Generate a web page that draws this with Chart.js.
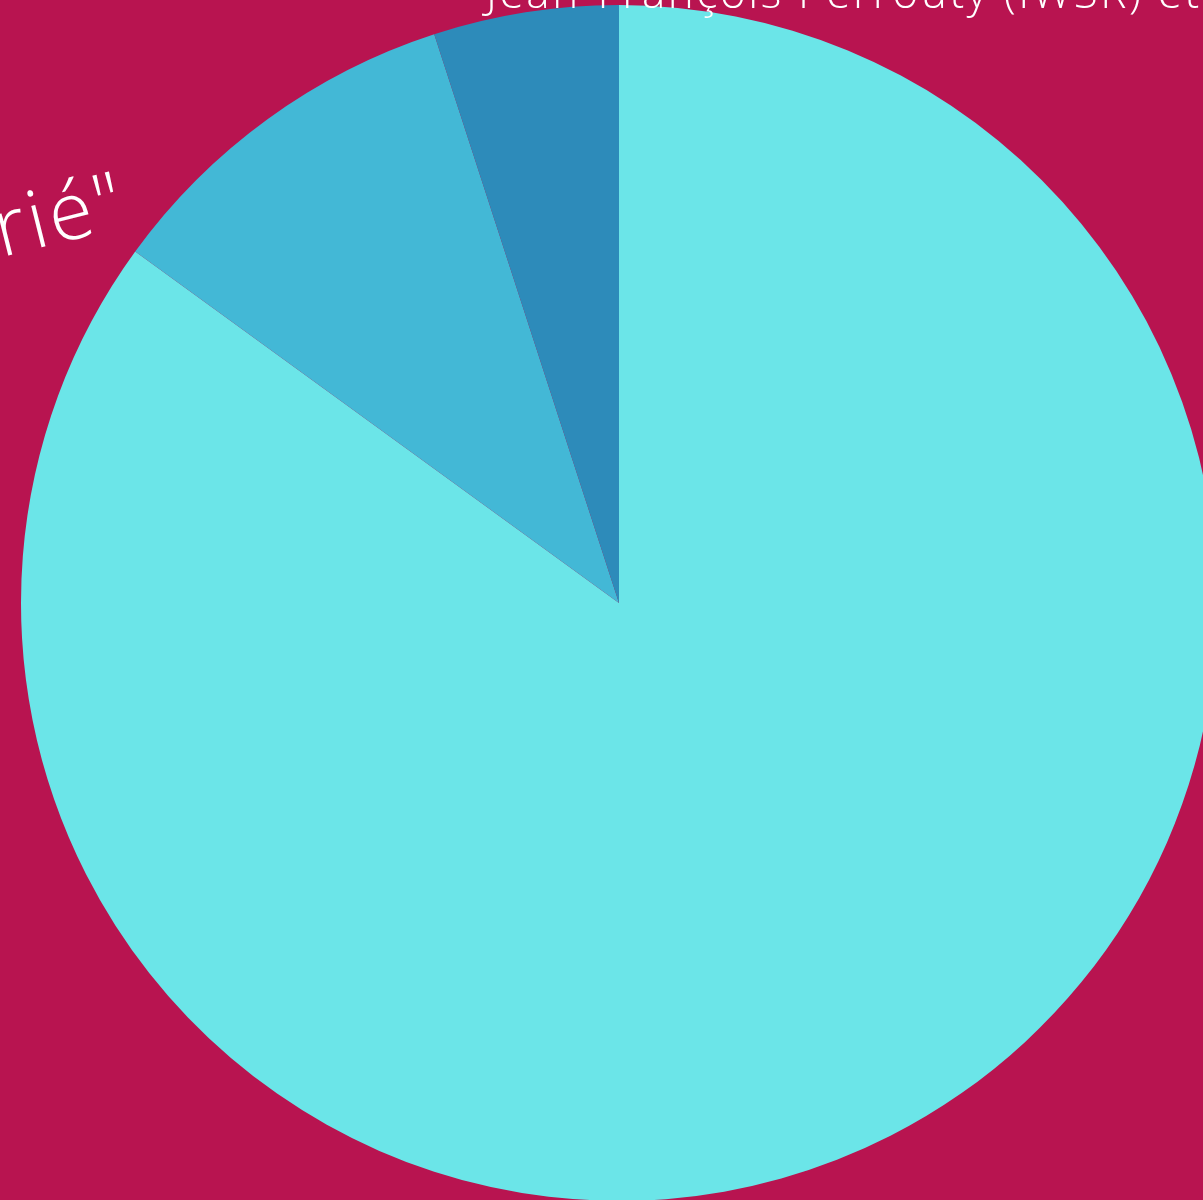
<!DOCTYPE html>
<html>
<head>
<meta charset="utf-8">
<script src="https://cdn.jsdelivr.net/npm/chart.js@4"></script>
<style>
    html, body { margin: 0; padding: 0; overflow: hidden; background: #b81450; }
    #wrap { position: absolute; left: 0; top: 0; width: 1240px; height: 1210px; }
</style>
</head>
<body>
<div id="wrap"><canvas id="pieChart"></canvas></div>
<script>
/* =========================
    Data
========================= */
const sliceLabels = ['Part 1', 'Part 2', 'Part 3'];
const sliceValues = [85, 10, 5];
const sliceColors = ['#6be5e8', '#43b8d6', '#2d8bba'];

const topText = 'Jean-François Perrouty (IWSR) et';
const sideText = 'rié"';

/* =========================
    Texte par-dessus le graphique
========================= */
const textPlugin = {
    id: 'overlayText',
    afterDraw(chart) {
        const ctx = chart.ctx;
        ctx.save();
        ctx.fillStyle = '#ffffff';
        ctx.textBaseline = 'alphabetic';

        // ligne du haut (coupée par le bord)
        ctx.font = '300 44px "Open Sans"';
        ctx.letterSpacing = '2.6px';
        ctx.textAlign = 'left';
        ctx.fillText(topText, 486, 8);

        // texte incliné à gauche
        ctx.translate(131, 225);
        ctx.rotate(-14 * Math.PI / 180);
        ctx.font = '300 80px "Open Sans"';
        ctx.letterSpacing = '3px';
        ctx.textAlign = 'right';
        ctx.fillText(sideText, 0, 0);
        ctx.restore();
    }
};

/* =========================
    Graphique
========================= */
const ctx = document.getElementById('pieChart').getContext('2d');
new Chart(ctx, {
    type: 'pie',
    data: {
        labels: sliceLabels,
        datasets: [{
            data: sliceValues,
            backgroundColor: sliceColors,
            borderWidth: 0
        }]
    },
    options: {
        responsive: true,
        maintainAspectRatio: false,
        animation: false,
        layout: { padding: { left: 21, right: 23, top: 5, bottom: 9 } },
        plugins: {
            legend: { display: false },
            tooltip: { enabled: false }
        }
    },
    plugins: [textPlugin]
});
</script>
</body>
</html>
